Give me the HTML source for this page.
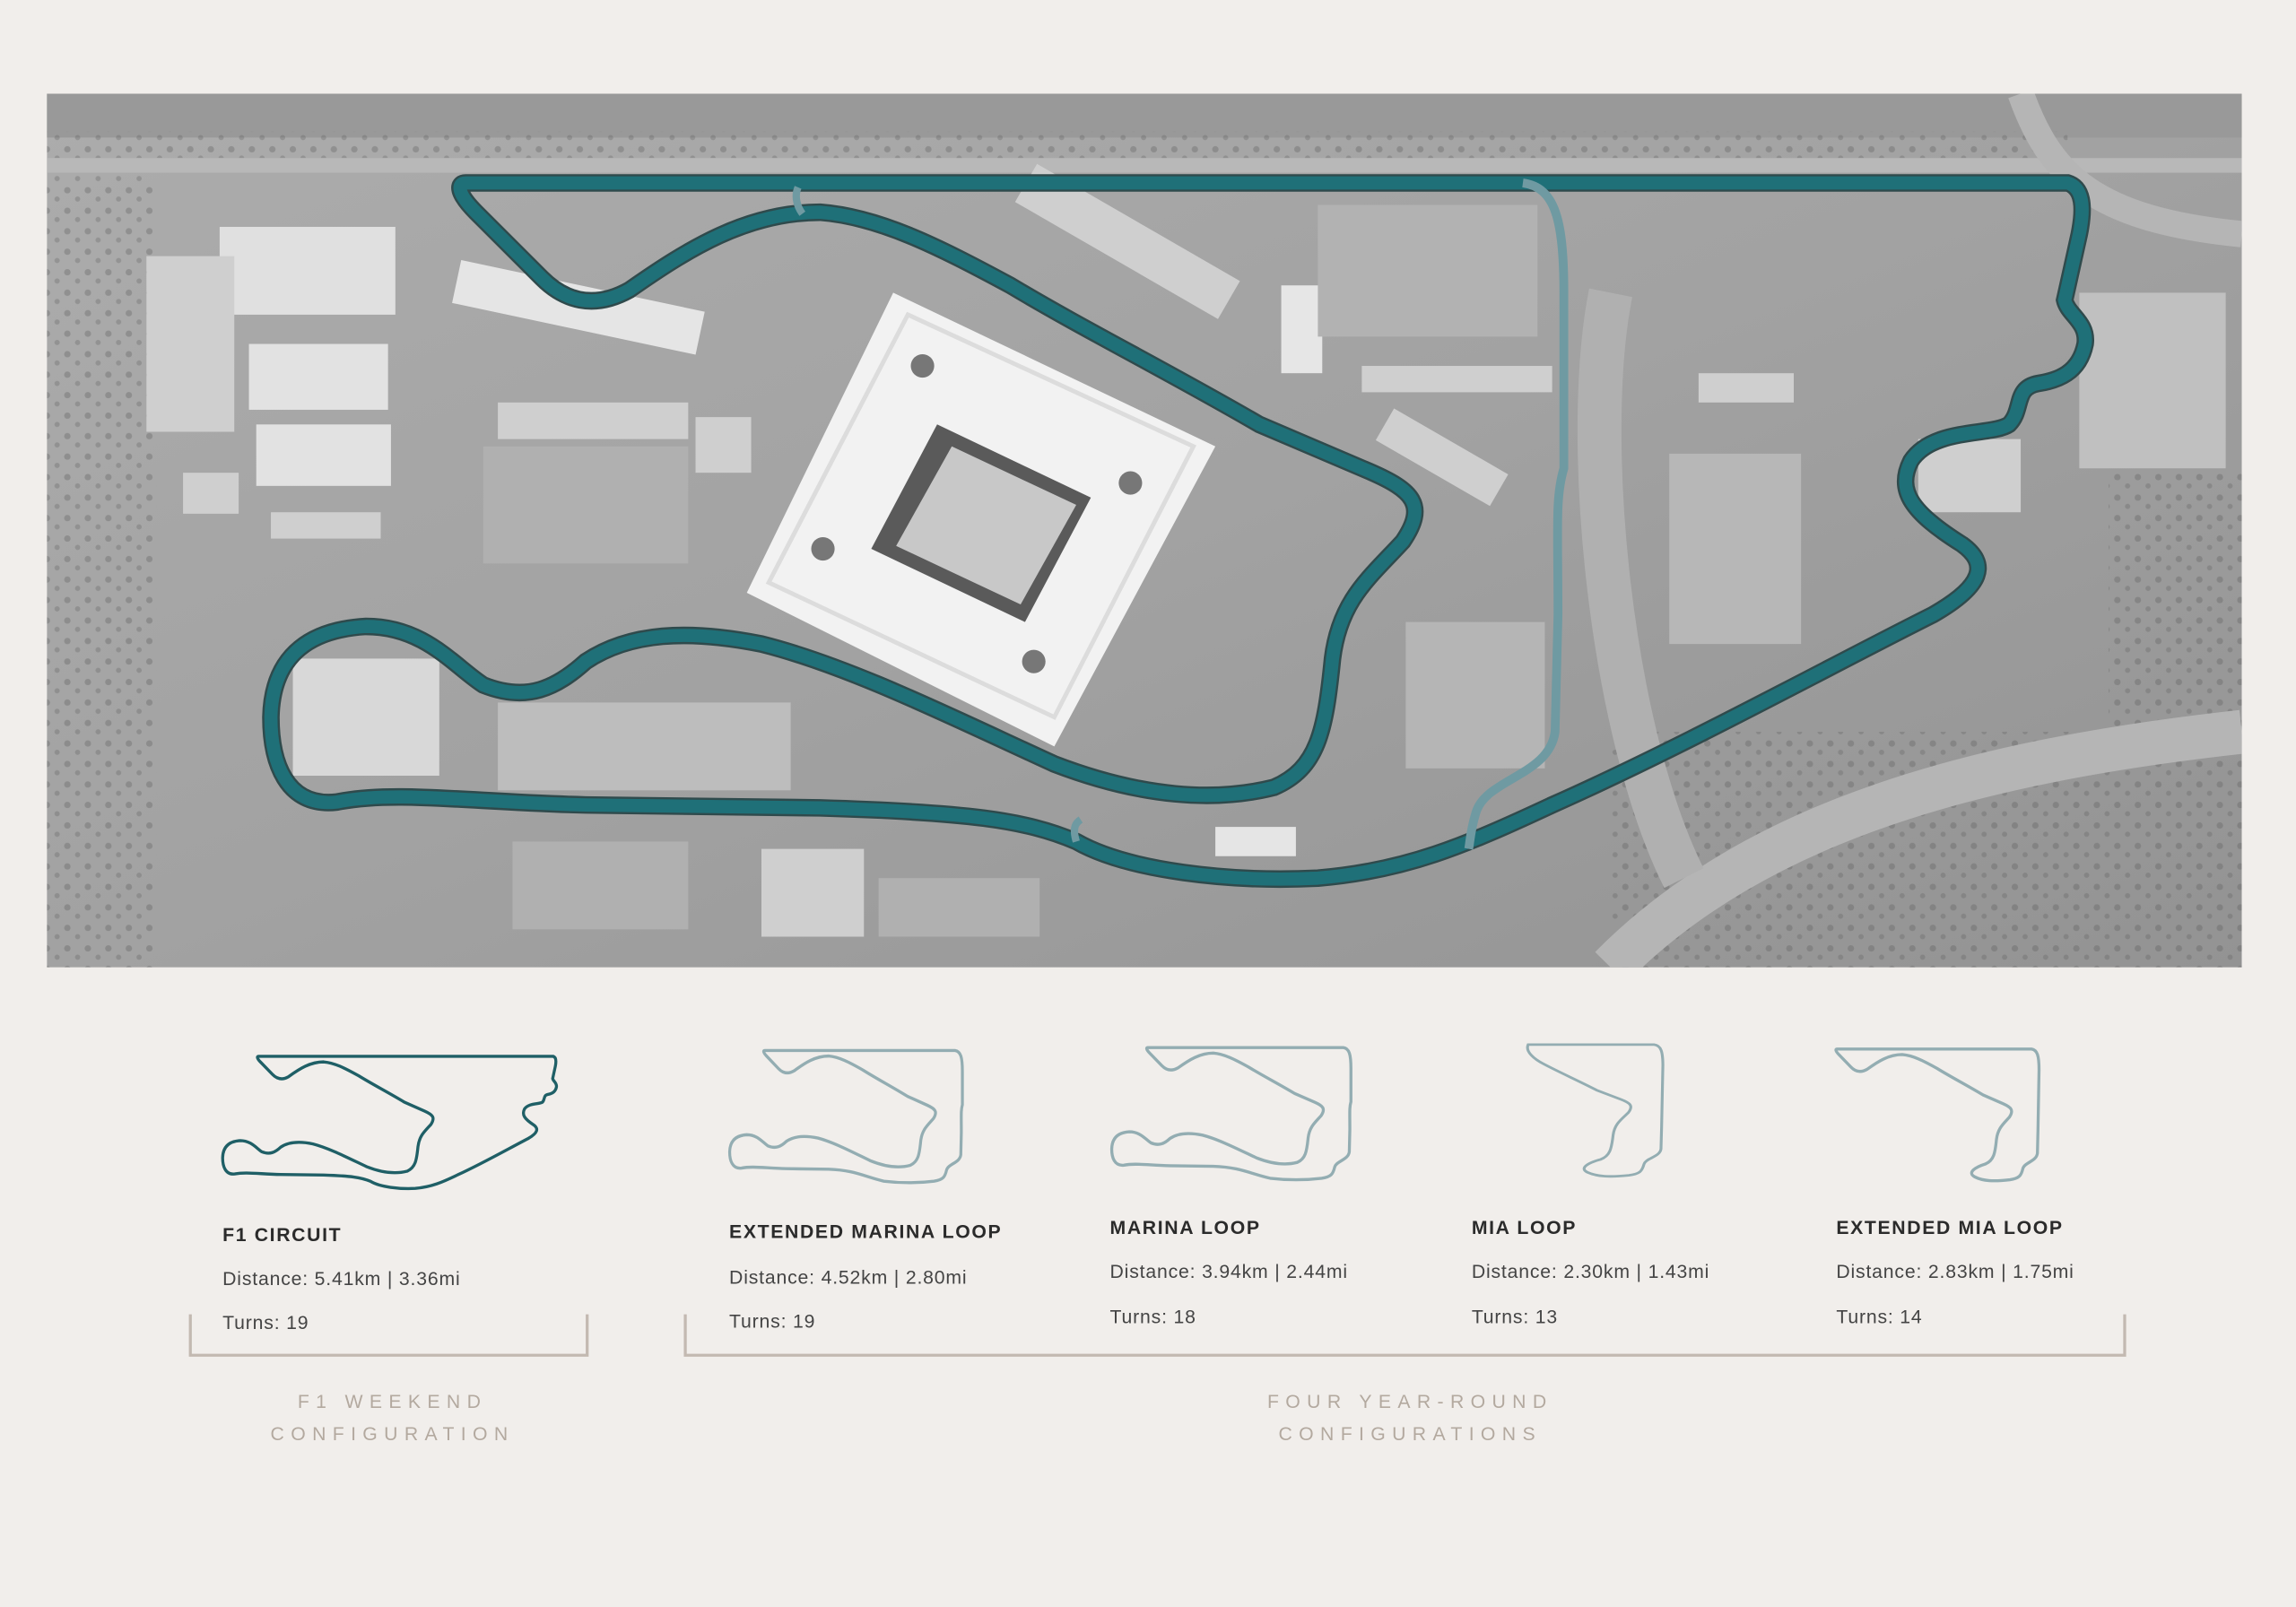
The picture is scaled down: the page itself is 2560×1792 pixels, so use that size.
<!DOCTYPE html>
<html><head><meta charset="utf-8"><style>
html,body{margin:0;padding:0;background:#f1eeeb;}
svg{display:block}
text{font-family:"Liberation Sans",sans-serif}
</style></head><body>
<svg width="2560" height="1792" viewBox="0 0 1568 1098" preserveAspectRatio="none" xmlns="http://www.w3.org/2000/svg">
<defs>
<path id="f1" d="M318 125 L1412 125 C1422 128 1424 140 1420 160 L1410 205 C1412 215 1426 220 1424 235 C1420 255 1405 260 1392 262 C1375 265 1382 280 1372 290 C1360 298 1320 292 1305 315 C1295 335 1305 350 1340 372 C1358 385 1355 400 1320 420 C1250 455 1150 510 1060 550 C1000 578 960 595 900 600 C840 603 770 595 735 575 C700 560 660 555 560 552 L400 550 C320 548 270 540 230 548 C195 552 185 520 185 490 C186 445 215 430 250 428 C290 428 310 455 330 468 C360 480 380 470 400 452 C430 432 470 430 520 440 C580 455 650 490 720 522 C780 545 830 548 870 538 C900 525 905 500 910 450 C915 410 935 395 958 370 C975 345 965 335 935 322 L860 290 C800 255 740 225 690 195 C640 168 600 148 560 145 C510 145 470 170 430 198 C405 212 385 205 370 190 L325 145 C312 132 312 125 318 125 Z"/>
<path id="marina" d="M318 125 L1040 125 C1062 128 1068 150 1068 200 L1068 320 C1062 340 1064 360 1064 420 L1062 500 C1058 530 1015 532 1008 555 C1002 580 995 590 960 595 C900 602 840 603 770 595 C700 580 660 555 560 552 L400 550 C320 548 270 540 230 548 C195 552 185 520 185 490 C186 445 215 430 250 428 C290 428 310 455 330 468 C360 480 380 470 400 452 C430 432 470 430 520 440 C580 455 650 490 720 522 C780 545 830 548 870 538 C900 525 905 500 910 450 C915 410 935 395 958 370 C975 345 965 335 935 322 L860 290 C800 255 740 225 690 195 C640 168 600 148 560 145 C510 145 470 170 430 198 C405 212 385 205 370 190 L325 145 C312 132 312 125 318 125 Z"/>
<path id="mia" d="M640 125 L1040 125 C1062 128 1068 150 1068 200 L1064 420 L1062 500 C1058 530 1015 532 1008 555 C1002 580 995 590 960 595 C900 602 860 600 830 585 C800 570 830 550 870 538 C900 525 905 500 910 450 C915 410 935 395 958 370 C975 345 965 335 935 322 L860 290 C800 255 740 225 690 195 C660 178 630 150 640 125 Z"/>
<path id="emia" d="M318 125 L1040 125 C1062 128 1068 150 1068 200 L1064 420 L1062 500 C1058 530 1015 532 1008 555 C1002 580 995 590 960 595 C900 602 860 600 830 585 C800 570 830 550 870 538 C900 525 905 500 910 450 C915 410 935 395 958 370 C975 345 965 335 935 322 L860 290 C800 255 740 225 690 195 C640 168 600 148 560 145 C510 145 470 170 430 198 C405 212 385 205 370 190 L325 145 C312 132 312 125 318 125 Z"/>
<linearGradient id="bg" x1="0" y1="0" x2="1" y2="1"><stop offset="0" stop-color="#acacac"/><stop offset="0.5" stop-color="#a2a2a2"/><stop offset="1" stop-color="#939393"/></linearGradient>
<pattern id="trees" width="14" height="14" patternUnits="userSpaceOnUse"><circle cx="4" cy="4" r="2.2" fill="#5e5e5e" opacity="0.35"/><circle cx="11" cy="10" r="1.8" fill="#5e5e5e" opacity="0.3"/></pattern>
<clipPath id="mc"><rect x="32" y="64" width="1499" height="597"/></clipPath>
</defs>
<g clip-path="url(#mc)">
<rect x="32" y="64" width="1499" height="597" fill="url(#bg)"/>
<rect x="32" y="64" width="1499" height="30" fill="#999"/>
<rect x="32" y="90" width="1380" height="18" fill="url(#trees)"/>
<rect x="32" y="108" width="1499" height="10" fill="#b8b8b8"/>
<rect x="32" y="120" width="75" height="541" fill="url(#trees)"/>
<rect x="1100" y="500" width="431" height="161" fill="url(#trees)"/>
<rect x="1440" y="320" width="91" height="180" fill="url(#trees)"/>
<g fill="#cfcfcf">
<rect x="150" y="155" width="120" height="60" fill="#e0e0e0"/><rect x="100" y="175" width="60" height="120"/>
<rect x="170" y="235" width="95" height="45" fill="#e2e2e2"/><rect x="175" y="290" width="92" height="42" fill="#e2e2e2"/>
<rect x="125" y="323" width="38" height="28"/><rect x="185" y="350" width="75" height="18"/>
<rect x="340" y="275" width="130" height="25"/><rect x="475" y="285" width="38" height="38"/>
<rect x="330" y="305" width="140" height="80" fill="#b0b0b0"/>
<rect x="690" y="150" width="160" height="30" transform="rotate(30 770 165)"/>
<rect x="875" y="195" width="28" height="60" fill="#e6e6e6"/><rect x="930" y="250" width="130" height="18"/>
<rect x="940" y="300" width="90" height="25" transform="rotate(30 985 312)"/>
<rect x="900" y="140" width="150" height="90" fill="#b2b2b2"/>
<rect x="960" y="425" width="95" height="100" fill="#b5b5b5"/>
<rect x="1140" y="310" width="90" height="130" fill="#b7b7b7"/>
<rect x="1160" y="255" width="65" height="20"/>
<rect x="1310" y="300" width="70" height="50"/><rect x="1420" y="200" width="100" height="120" fill="#c0c0c0"/>
<rect x="200" y="450" width="100" height="80" fill="#d8d8d8"/>
<rect x="340" y="480" width="200" height="60" fill="#bdbdbd"/>
<rect x="830" y="565" width="55" height="20" fill="#e5e5e5"/>
<rect x="350" y="575" width="120" height="60" fill="#b0b0b0"/><rect x="520" y="580" width="70" height="60"/>
<rect x="600" y="600" width="110" height="40" fill="#b0b0b0"/>
<rect x="310" y="195" width="170" height="30" fill="#e5e5e5" transform="rotate(12 395 210)"/>
</g>
<path d="M1100 661 C1200 560 1350 520 1531 500" stroke="#b5b5b5" stroke-width="30" fill="none"/>
<path d="M1380 64 C1400 120 1430 150 1531 160" stroke="#b5b5b5" stroke-width="18" fill="none"/>
<path d="M1100 200 C1080 300 1100 500 1150 600" stroke="#b0b0b0" stroke-width="30" fill="none"/>
<polygon points="610,200 830,305 720,510 510,405" fill="#f2f2f2"/>
<polygon points="620,215 815,305 720,490 525,398" fill="none" stroke="#dcdcdc" stroke-width="3"/>
<polygon points="640,290 745,340 700,425 595,375" fill="#5a5a5a"/>
<polygon points="650,305 735,345 697,413 612,373" fill="#c8c8c8"/>
<circle cx="630" cy="250" r="8" fill="#777"/><circle cx="772" cy="330" r="8" fill="#777"/><circle cx="562" cy="375" r="8" fill="#777"/><circle cx="706" cy="452" r="8" fill="#777"/>
<use href="#f1" fill="none" stroke="#2f4a4c" stroke-width="12"/>
<use href="#f1" fill="none" stroke="#1f7078" stroke-width="9"/>
<path d="M1040 125 C1062 128 1068 150 1068 200 L1068 320 C1062 340 1064 360 1064 420 L1062 500 C1058 530 1015 532 1008 555 C1004 568 1004 575 1003 580" fill="none" stroke="#6f9aa2" stroke-width="6"/>
<path d="M545 128 C542 135 545 142 548 146" stroke="#6f9aa2" stroke-width="5" fill="none"/>
<path d="M735 575 C732 565 735 562 738 560" stroke="#6f9aa2" stroke-width="5" fill="none"/>
</g>
<use href="#f1" transform="translate(118 698) scale(0.184 0.19)" fill="none" stroke="#1f5f66" stroke-width="11"/>
<use href="#marina" transform="translate(465 694) scale(0.18 0.19)" fill="none" stroke="#93adb2" stroke-width="11"/>
<use href="#marina" transform="translate(725 692) scale(0.185 0.19)" fill="none" stroke="#93adb2" stroke-width="11"/>
<use href="#mia" transform="translate(906 690) scale(0.215 0.19)" fill="none" stroke="#93adb2" stroke-width="9"/>
<use href="#emia" transform="translate(1196 693) scale(0.184 0.19)" fill="none" stroke="#93adb2" stroke-width="11"/>
<g fill="#2b2b2b" font-size="13">
<text x="152" y="848" font-weight="bold" letter-spacing="1">F1 CIRCUIT</text>
<text x="152" y="878" fill="#444" letter-spacing="0.5">Distance: 5.41km | 3.36mi</text>
<text x="152" y="908" fill="#444" letter-spacing="0.5">Turns: 19</text>
<text x="498" y="846" font-weight="bold" letter-spacing="1">EXTENDED MARINA LOOP</text>
<text x="498" y="877" fill="#444" letter-spacing="0.5">Distance: 4.52km | 2.80mi</text>
<text x="498" y="907" fill="#444" letter-spacing="0.5">Turns: 19</text>
<text x="758" y="843" font-weight="bold" letter-spacing="1">MARINA  LOOP</text>
<text x="758" y="873" fill="#444" letter-spacing="0.5">Distance: 3.94km | 2.44mi</text>
<text x="758" y="904" fill="#444" letter-spacing="0.5">Turns: 18</text>
<text x="1005" y="843" font-weight="bold" letter-spacing="1">MIA LOOP</text>
<text x="1005" y="873" fill="#444" letter-spacing="0.5">Distance: 2.30km | 1.43mi</text>
<text x="1005" y="904" fill="#444" letter-spacing="0.5">Turns: 13</text>
<text x="1254" y="843" font-weight="bold" letter-spacing="1">EXTENDED MIA LOOP</text>
<text x="1254" y="873" fill="#444" letter-spacing="0.5">Distance: 2.83km | 1.75mi</text>
<text x="1254" y="904" fill="#444" letter-spacing="0.5">Turns: 14</text>
</g>
<path d="M130 898 V926 H401 V898" fill="none" stroke="#c3b9b1" stroke-width="2"/>
<path d="M468 898 V926 H1451 V898" fill="none" stroke="#c3b9b1" stroke-width="2"/>
<g fill="#b3a99f" font-size="13" letter-spacing="4.5" text-anchor="middle">
<text x="268" y="962">F1 WEEKEND</text>
<text x="268" y="984">CONFIGURATION</text>
<text x="963" y="962">FOUR YEAR-ROUND</text>
<text x="963" y="984">CONFIGURATIONS</text>
</g>
</svg>
</body></html>
